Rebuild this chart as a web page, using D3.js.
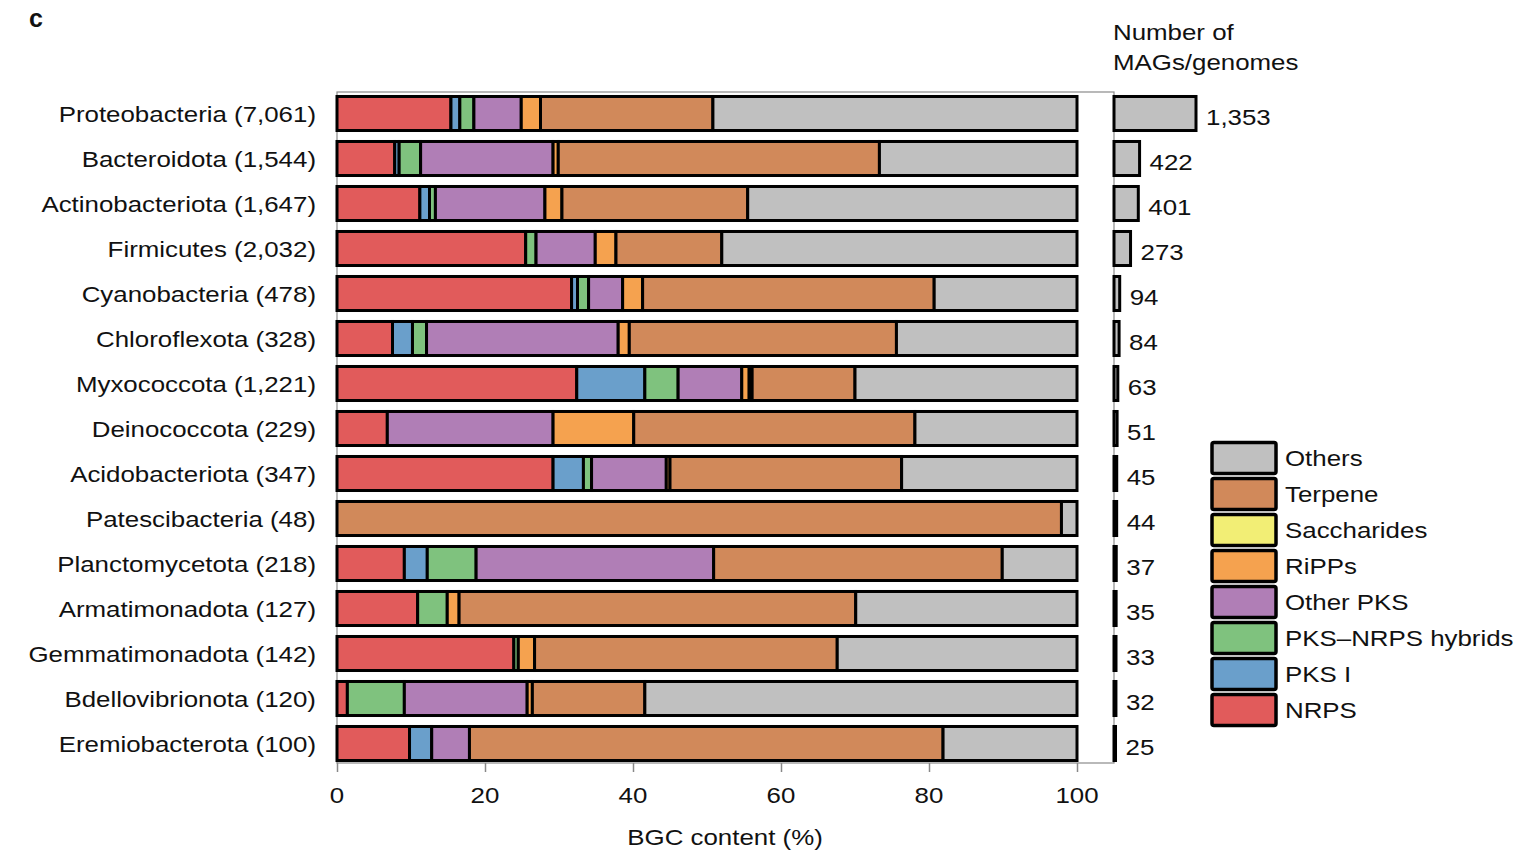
<!DOCTYPE html>
<html><head><meta charset="utf-8">
<script src="https://cdn.jsdelivr.net/npm/d3@7"></script>
<style>
html,body{margin:0;padding:0;background:#fff;}
svg{display:block;font-family:"Liberation Sans",Arial,Helvetica,sans-serif;}
</style></head>
<body><svg id="chart" width="1539" height="861"></svg>
<script>
// ---- data ----
const categories = ["Proteobacteria","Bacteroidota","Actinobacteriota","Firmicutes","Cyanobacteria","Chloroflexota","Myxococcota","Deinococcota","Acidobacteriota","Patescibacteria","Planctomycetota","Armatimonadota","Gemmatimonadota","Bdellovibrionota","Eremiobacterota"];
const bgcTotals = [7061,1544,1647,2032,478,328,1221,229,347,48,218,127,142,120,100];
const genomeCounts = [1353,422,401,273,94,84,63,51,45,44,37,35,33,32,25];

const nrps     = [15.4,7.8,11.2,25.5,31.7,7.5,32.4,6.8,29.2,0,9.1,10.9,23.9,1.4,9.8];
const pks1     = [1.2,0.6,1.3,0,0.8,2.7,9.2,0,4.1,0,3.1,0,0,0,3.0];
const hybrids  = [1.9,2.9,0.8,1.4,1.5,1.9,4.5,0,1.1,0,6.6,4.0,0.6,7.7,0];
const otherPks = [6.4,17.9,14.8,8.0,4.6,25.9,8.6,22.4,10.1,0,32.1,0,0,16.6,5.1];
const ripps    = [2.6,0.7,2.3,2.8,2.7,1.5,1.0,10.9,0.5,0,0,1.6,2.2,0.7,0];
const sacch    = [0,0,0,0,0,0,0.4,0,0,0,0,0,0,0,0];
const terpene  = [23.3,43.4,25.1,14.3,39.4,36.1,13.9,38.0,31.3,97.9,39.0,53.6,40.9,15.2,64.0];
const others   = [49.2,26.7,44.5,48.0,19.3,24.4,30.0,21.9,23.7,2.1,10.1,29.9,32.4,58.4,18.1];

const seriesKeys = ["NRPS","PKS I","PKS–NRPS hybrids","Other PKS","RiPPs","Saccharides","Terpene","Others"];
const seriesVals = [nrps,pks1,hybrids,otherPks,ripps,sacch,terpene,others];
const seriesColors = ["#E15B5B","#6A9FCB","#7FC27E","#B07EB6","#F5A24F","#F2EE75","#D1895A","#C0C0C0"];
const xTicks = [0,20,40,60,80,100];

// ---- build table ----
const table = categories.map((c,i)=>{
  const row = {cat:c};
  seriesKeys.forEach((k,j)=>row[k]=seriesVals[j][i]);
  return row;
});

const svg = d3.select("#chart");
const SX = 1.15, FS = 22.5;
function txt(x,y,s,anchor,size,weight){
  return svg.append("text")
    .attr("transform",`translate(${x},${y}) scale(${SX},1)`)
    .attr("text-anchor",anchor||"start")
    .attr("font-size",size||FS)
    .attr("font-weight",weight||"normal")
    .attr("fill","#111")
    .text(s);
}

const x = d3.scaleLinear().domain([0,100]).range([337,1077]);
const y = d3.scaleBand().domain(categories).range([91,766]).paddingInner(0.244).paddingOuter(0.122);
const color = d3.scaleOrdinal().domain(seriesKeys).range(seriesColors);

// frame
svg.append("rect").attr("x",337).attr("y",92).attr("width",1114-337).attr("height",763-92)
  .attr("fill","none").attr("stroke","#8a8a8a").attr("stroke-width",1.2);

// stacked bars
const stacked = d3.stack().keys(seriesKeys)(table);
const layers = svg.append("g");
stacked.forEach(layer=>{
  layers.append("g").attr("fill",color(layer.key))
    .selectAll("rect").data(layer.filter(d=>d[1]-d[0]>0)).join("rect")
    .attr("x",d=>x(d[0])).attr("width",d=>x(d[1])-x(d[0]))
    .attr("y",d=>y(d.data.cat)).attr("height",y.bandwidth())
    .attr("stroke","#000").attr("stroke-width",3);
});

// x axis
const ax = svg.append("g").attr("transform","translate(0,763)")
  .call(d3.axisBottom(x).tickValues(xTicks).tickSize(9).tickFormat(""));
ax.select(".domain").remove();
ax.selectAll(".tick line").attr("stroke","#888").attr("stroke-width",1.5);
xTicks.forEach(t=>txt(x(t),803,String(t),"middle"));
txt(725,845,"BGC content (%)","middle");

// category labels
const fmt = d3.format(",");
categories.forEach((c,i)=>{
  txt(316, y(c)+y.bandwidth()/2+8, `${c} (${fmt(bgcTotals[i])})`, "end");
});

// genome count bars
const cx = d3.scaleLinear().domain([0,1353]).range([0,82]);
const cg = svg.append("g");
cg.selectAll("rect").data(categories).join("rect")
  .attr("x",1114).attr("y",c=>y(c)).attr("height",y.bandwidth())
  .attr("width",(c,i)=>cx(genomeCounts[i]))
  .attr("fill","#C0C0C0").attr("stroke","#000").attr("stroke-width",3);
categories.forEach((c,i)=>{
  txt(1114+cx(genomeCounts[i])+10, y(c)+y.bandwidth()/2+11, fmt(genomeCounts[i]), "start");
});
txt(1113,39.5,"Number of","start");
txt(1113,70,"MAGs/genomes","start");

// panel letter
svg.append("text").attr("x",29).attr("y",27).attr("font-size",25).attr("font-weight","bold")
  .attr("fill","#111").text("c");

// legend
const legendOrder = seriesKeys.slice().reverse();
legendOrder.forEach((k,i)=>{
  const cy = 458 + 36*i;
  svg.append("rect").attr("x",1212).attr("y",cy-15.5).attr("width",64).attr("height",31)
    .attr("rx",2).attr("fill",color(k)).attr("stroke","#000").attr("stroke-width",3.5);
  txt(1285, cy+8, k, "start");
});
</script></body></html>
